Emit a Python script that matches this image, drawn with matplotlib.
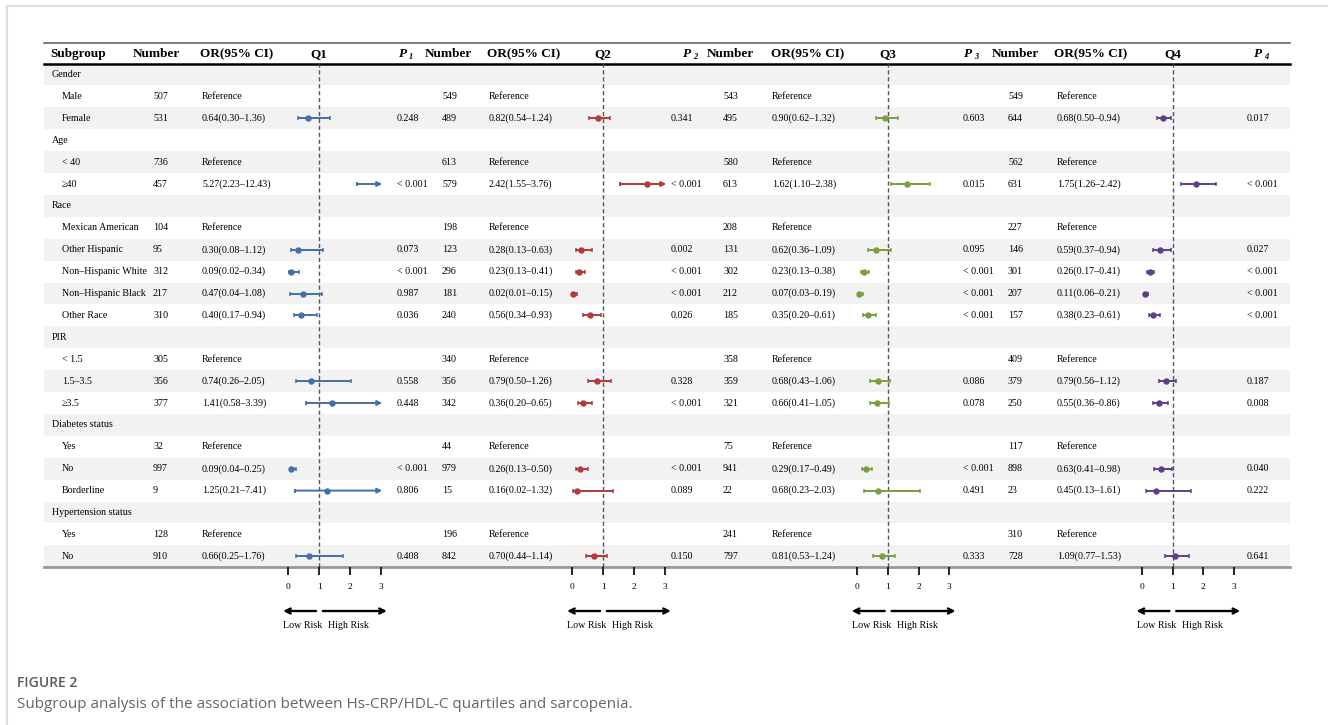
"""
Forest plot: subgroup analysis of Hs-CRP/HDL-C quartiles and sarcopenia.
"""
import matplotlib.pyplot as plt
from matplotlib.patches import Rectangle
from matplotlib.transforms import blended_transform_factory

plt.rcParams['font.family'] = ['Liberation Serif', 'DejaVu Serif']

# --- data -------------------------------------------------------------
subgroups = ["Gender", "Male", "Female", "Age", "< 40", "≥40", "Race",
             "Mexican American", "Other Hispanic", "Non–Hispanic White",
             "Non–Hispanic Black", "Other Race", "PIR", "< 1.5", "1.5–3.5",
             "≥3.5", "Diabetes status", "Yes", "No", "Borderline",
             "Hypertension status", "Yes", "No"]
group_rows = [0, 3, 6, 12, 16, 20]
item_rows = [1, 2, 4, 5, 7, 8, 9, 10, 11, 13, 14, 15, 17, 18, 19, 21, 22]
ref_rows = [1, 4, 7, 13, 17, 21]
cmp_rows = [2, 5, 8, 9, 10, 11, 14, 15, 18, 19, 22]

quartiles = ["Q1", "Q2", "Q3", "Q4"]

n_q1 = [507, 531, 736, 457, 104, 95, 312, 217, 310, 305, 356, 377, 32, 997, 9, 128, 910]
n_q2 = [549, 489, 613, 579, 198, 123, 296, 181, 240, 340, 356, 342, 44, 979, 15, 196, 842]
n_q3 = [543, 495, 580, 613, 208, 131, 302, 212, 185, 358, 359, 321, 75, 941, 22, 241, 797]
n_q4 = [549, 644, 562, 631, 227, 146, 301, 207, 157, 409, 379, 250, 117, 898, 23, 310, 728]

or_q1 = [0.64, 5.27, 0.30, 0.09, 0.47, 0.40, 0.74, 1.41, 0.09, 1.25, 0.66]
lo_q1 = [0.30, 2.23, 0.08, 0.02, 0.04, 0.17, 0.26, 0.58, 0.04, 0.21, 0.25]
hi_q1 = [1.36, 12.43, 1.12, 0.34, 1.08, 0.94, 2.05, 3.39, 0.25, 7.41, 1.76]
p_q1 = ["0.248", "< 0.001", "0.073", "< 0.001", "0.987", "0.036", "0.558",
        "0.448", "< 0.001", "0.806", "0.408"]

or_q2 = [0.82, 2.42, 0.28, 0.23, 0.02, 0.56, 0.79, 0.36, 0.26, 0.16, 0.70]
lo_q2 = [0.54, 1.55, 0.13, 0.13, 0.01, 0.34, 0.50, 0.20, 0.13, 0.02, 0.44]
hi_q2 = [1.24, 3.76, 0.63, 0.41, 0.15, 0.93, 1.26, 0.65, 0.50, 1.32, 1.14]
p_q2 = ["0.341", "< 0.001", "0.002", "< 0.001", "< 0.001", "0.026", "0.328",
        "< 0.001", "< 0.001", "0.089", "0.150"]

or_q3 = [0.90, 1.62, 0.62, 0.23, 0.07, 0.35, 0.68, 0.66, 0.29, 0.68, 0.81]
lo_q3 = [0.62, 1.10, 0.36, 0.13, 0.03, 0.20, 0.43, 0.41, 0.17, 0.23, 0.53]
hi_q3 = [1.32, 2.38, 1.09, 0.38, 0.19, 0.61, 1.06, 1.05, 0.49, 2.03, 1.24]
p_q3 = ["0.603", "0.015", "0.095", "< 0.001", "< 0.001", "< 0.001", "0.086",
        "0.078", "< 0.001", "0.491", "0.333"]

or_q4 = [0.68, 1.75, 0.59, 0.26, 0.11, 0.38, 0.79, 0.55, 0.63, 0.45, 1.09]
lo_q4 = [0.50, 1.26, 0.37, 0.17, 0.06, 0.23, 0.56, 0.36, 0.41, 0.13, 0.77]
hi_q4 = [0.94, 2.42, 0.94, 0.41, 0.21, 0.61, 1.12, 0.86, 0.98, 1.61, 1.53]
p_q4 = ["0.017", "< 0.001", "0.027", "< 0.001", "< 0.001", "< 0.001", "0.187",
        "0.008", "0.040", "0.222", "0.641"]

tick_values = [0, 1, 2, 3]

# --- layout (pixels) --------------------------------------------------
W, H = 1328, 725
TAB_L, TAB_R = 44, 1290
TOP_Y, HEAD_Y, HEADLINE_Y, BOT_Y = 43, 54, 64, 567
ROW0, PITCH = 74.5, 21.9
SCALE = 30.8          # px per OR unit
XMIN, XMAX, CLIP = -0.45, 3.4, 3.05

colors = ["#4470a6", "#b03a3c", "#7b9e3e", "#5e3f87"]
plot_x0 = [288.3, 572.3, 857.0, 1141.7]
num_head_x = [133, 425, 707, 992]
or_head_x = [200, 487, 771, 1054]
p_head_x = [399, 683, 964, 1254]
num_x = [153, 442, 723, 1008]
or_x = [202, 489, 772, 1057]
p_x = [397, 671, 963, 1247]

n_all = [n_q1, n_q2, n_q3, n_q4]
or_all = [or_q1, or_q2, or_q3, or_q4]
lo_all = [lo_q1, lo_q2, lo_q3, lo_q4]
hi_all = [hi_q1, hi_q2, hi_q3, hi_q4]
p_all = [p_q1, p_q2, p_q3, p_q4]

TXT = 7.2
HEAD = 9.5


def row_y(i):
    return ROW0 + i * PITCH


fig = plt.figure(figsize=(W / 100, H / 100), dpi=100)
ax = fig.add_axes([0, 0, 1, 1])
ax.set_xlim(0, W)
ax.set_ylim(H, 0)
ax.axis('off')

# page frame
ax.plot([7, W], [6, 6], color='#dedede', lw=1.5)
ax.plot([7, 7], [6, H], color='#dedede', lw=1.5)

# row shading
for i in range(len(subgroups)):
    if i % 2 == 0:
        ax.add_patch(Rectangle((TAB_L, row_y(i) - PITCH / 2), TAB_R - TAB_L, PITCH,
                               facecolor='#f2f2f2', edgecolor='none', zorder=0))

# table rules
ax.plot([TAB_L, TAB_R], [TOP_Y, TOP_Y], color='#666666', lw=1.2)
ax.plot([TAB_L, TAB_R], [HEADLINE_Y, HEADLINE_Y], color='black', lw=1.8)
ax.plot([TAB_L, TAB_R], [BOT_Y, BOT_Y], color='#999999', lw=2)

# header
ax.text(50, HEAD_Y, "Subgroup", fontsize=HEAD, weight='bold', va='center')
for q in range(4):
    ax.text(num_head_x[q], HEAD_Y, "Number", fontsize=HEAD, weight='bold', va='center')
    ax.text(or_head_x[q], HEAD_Y, "OR(95% CI)", fontsize=HEAD, weight='bold', va='center')
    ax.text(plot_x0[q] + SCALE, HEAD_Y, quartiles[q], fontsize=HEAD, weight='bold',
            va='center', ha='center')
    ax.text(p_head_x[q], HEAD_Y, "P", fontsize=HEAD, weight='bold', style='italic',
            va='center')
    ax.text(p_head_x[q] + 10, HEAD_Y + 3, str(q + 1), fontsize=6, weight='bold',
            style='italic', va='center')

# subgroup labels
for i, lab in enumerate(subgroups):
    x = 52 if i in group_rows else 62
    ax.text(x, row_y(i), lab, fontsize=TXT, va='center')

# numbers, OR text, p values
for q in range(4):
    for k, r in enumerate(item_rows):
        ax.text(num_x[q], row_y(r), str(n_all[q][k]), fontsize=TXT, va='center')
    for r in ref_rows:
        ax.text(or_x[q], row_y(r), "Reference", fontsize=TXT, va='center')
    for k, r in enumerate(cmp_rows):
        est, lo, hi = or_all[q][k], lo_all[q][k], hi_all[q][k]
        ax.text(or_x[q], row_y(r), f"{est:.2f}({lo:.2f}–{hi:.2f})", fontsize=TXT,
                va='center')
        ax.text(p_x[q], row_y(r), p_all[q][k], fontsize=TXT, va='center')

# forest panels
for q in range(4):
    left = plot_x0[q] + XMIN * SCALE
    pax = fig.add_axes([left / W, 1 - BOT_Y / H, (XMAX - XMIN) * SCALE / W,
                        (BOT_Y - HEADLINE_Y) / H])
    pax.set_xlim(XMIN, XMAX)
    pax.set_ylim(BOT_Y, HEADLINE_Y)
    pax.patch.set_visible(False)
    for s in pax.spines.values():
        s.set_visible(False)
    pax.set_yticks([])
    pax.set_xticks(tick_values)
    pax.set_xticklabels([str(t) for t in tick_values])
    pax.tick_params(axis='x', direction='out', length=6, width=1.2, labelsize=6.8,
                    pad=5.5)
    pax.axvline(1, color='#555555', lw=1, ls=(0, (3, 2)), zorder=1)

    c = colors[q]
    for k, r in enumerate(cmp_rows):
        y = row_y(r)
        est, lo, hi = or_all[q][k], lo_all[q][k], hi_all[q][k]
        if hi <= CLIP:
            pax.errorbar(est, y, xerr=[[est - lo], [hi - est]], fmt='o', color=c,
                         ms=3.6, lw=1.4, capsize=1.7, capthick=1.1, zorder=3)
        else:
            pax.annotate('', xy=(CLIP, y), xytext=(lo, y),
                         arrowprops=dict(arrowstyle='-|>', color=c, lw=1.4,
                                         mutation_scale=7, shrinkA=0, shrinkB=0),
                         zorder=3)
            pax.errorbar(lo, y, xerr=[[0], [0]], fmt='none', color=c, lw=1.4,
                         capsize=1.7, capthick=1.1, zorder=3)
            if est <= CLIP:
                pax.plot(est, y, 'o', color=c, ms=3.6, zorder=3)

    # risk direction arrows
    tr = blended_transform_factory(pax.transData, ax.transData)
    pax.annotate('', xy=(-0.17, 611), xytext=(0.9, 611), xycoords=tr, textcoords=tr,
                 arrowprops=dict(arrowstyle='->', color='black', lw=1.7,
                                 mutation_scale=9, shrinkA=0, shrinkB=0),
                 annotation_clip=False)
    pax.annotate('', xy=(3.2, 611), xytext=(1.12, 611), xycoords=tr, textcoords=tr,
                 arrowprops=dict(arrowstyle='->', color='black', lw=1.7,
                                 mutation_scale=9, shrinkA=0, shrinkB=0),
                 annotation_clip=False)
    pax.text(0.48, 626, "Low Risk", transform=tr, fontsize=TXT, ha='center',
             va='center')
    pax.text(1.97, 626, "High Risk", transform=tr, fontsize=TXT, ha='center',
             va='center')

# caption
ax.text(17, 683, "FIGURE 2", fontsize=10, family='Open Sans', weight='semibold',
        color='#5a5a5a', va='center')
ax.text(17, 705, "Subgroup analysis of the association between Hs-CRP/HDL-C quartiles "
        "and sarcopenia.", fontsize=11.0, family='Open Sans', color='#666666',
        va='center')

fig.savefig("out.png", dpi=100)
plt.close(fig)
